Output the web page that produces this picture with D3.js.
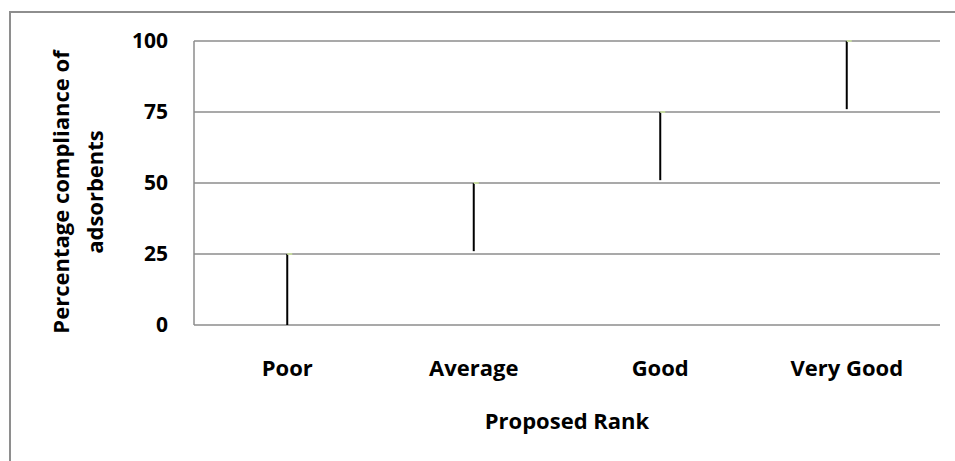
<!DOCTYPE html>
<html>
<head>
<meta charset="utf-8">
<script src="https://cdn.jsdelivr.net/npm/d3@7"></script>
<style>
  body { margin: 0; background: #fff; }
  text { font-family: "Open Sans", sans-serif; font-weight: bold; fill: #000; }
</style>
</head>
<body>
<div class="chart"></div>
<script>
var width = 955,
    height = 461;

// data
var ranks = ["Poor", "Average", "Good", "Very Good"];
var lowVals = [0, 26, 51, 76];
var highVals = [25, 50, 75, 100];
var yTicks = [0, 25, 50, 75, 100];

var margin = {left: 194, right: 15, top: 41, bottom: 136};

var svg = d3.select(".chart").append("svg")
    .attr("width", width)
    .attr("height", height);

// outer frame (only top and left visible)
svg.append("path")
    .attr("d", "M10," + height + "V12H" + width)
    .attr("fill", "none")
    .attr("stroke", "#8e8e8e")
    .attr("stroke-width", 2);

var x = d3.scaleBand()
    .domain(ranks)
    .range([margin.left, width - margin.right]);

var y = d3.scaleLinear()
    .domain([0, 100])
    .range([height - margin.bottom, margin.top]);

// gridlines
svg.append("g")
    .selectAll("line")
    .data(yTicks)
    .enter().append("line")
      .attr("x1", margin.left)
      .attr("x2", width - margin.right)
      .attr("y1", function(d){ return y(d); })
      .attr("y2", function(d){ return y(d); })
      .attr("stroke", "#8c8c8c")
      .attr("stroke-width", 1.5);

// y axis line
svg.append("line")
    .attr("x1", margin.left).attr("x2", margin.left)
    .attr("y1", y(100)).attr("y2", y(0))
    .attr("stroke", "#8c8c8c")
    .attr("stroke-width", 1.5);

// y tick labels
svg.append("g")
    .selectAll("text")
    .data(yTicks)
    .enter().append("text")
      .attr("x", 168)
      .attr("y", function(d){ return y(d); })
      .attr("dy", "0.35em")
      .attr("text-anchor", "end")
      .style("font-size", "21px")
      .text(function(d){ return d; });

// x category labels
svg.append("g")
    .selectAll("text")
    .data(ranks)
    .enter().append("text")
      .attr("x", function(d){ return x(d) + x.bandwidth() / 2; })
      .attr("y", 368)
      .attr("dy", "0.35em")
      .attr("text-anchor", "middle")
      .style("font-size", "22px")
      .text(function(d){ return d; });

// high-low lines
var rows = ranks.map(function(r, i){ return {rank: r, low: lowVals[i], high: highVals[i]}; });

svg.append("g")
    .selectAll("line")
    .data(rows)
    .enter().append("line")
      .attr("x1", function(d){ return x(d.rank) + x.bandwidth() / 2; })
      .attr("x2", function(d){ return x(d.rank) + x.bandwidth() / 2; })
      .attr("y1", function(d){ return y(d.low); })
      .attr("y2", function(d){ return y(d.high); })
      .attr("stroke", "#000")
      .attr("stroke-width", 2);

// small close markers at top
svg.append("g")
    .selectAll("rect")
    .data(rows)
    .enter().append("rect")
      .attr("x", function(d){ return x(d.rank) + x.bandwidth() / 2; })
      .attr("y", function(d){ return y(d.high) - 1; })
      .attr("width", 5)
      .attr("height", 2)
      .attr("fill", "#c6d9a0");

// axis titles
svg.append("text")
    .attr("x", (margin.left + width - margin.right) / 2)
    .attr("y", 421)
    .attr("dy", "0.35em")
    .attr("text-anchor", "middle")
    .style("font-size", "22px")
    .text("Proposed Rank");

var yTitle = svg.append("text")
    .attr("transform", "translate(78,192) rotate(-90)")
    .attr("text-anchor", "middle")
    .style("font-size", "22px");
yTitle.append("tspan").attr("x", 0).attr("y", -9).text("Percentage compliance of");
yTitle.append("tspan").attr("x", 0).attr("y", 25).text("adsorbents");
</script>
</body>
</html>
